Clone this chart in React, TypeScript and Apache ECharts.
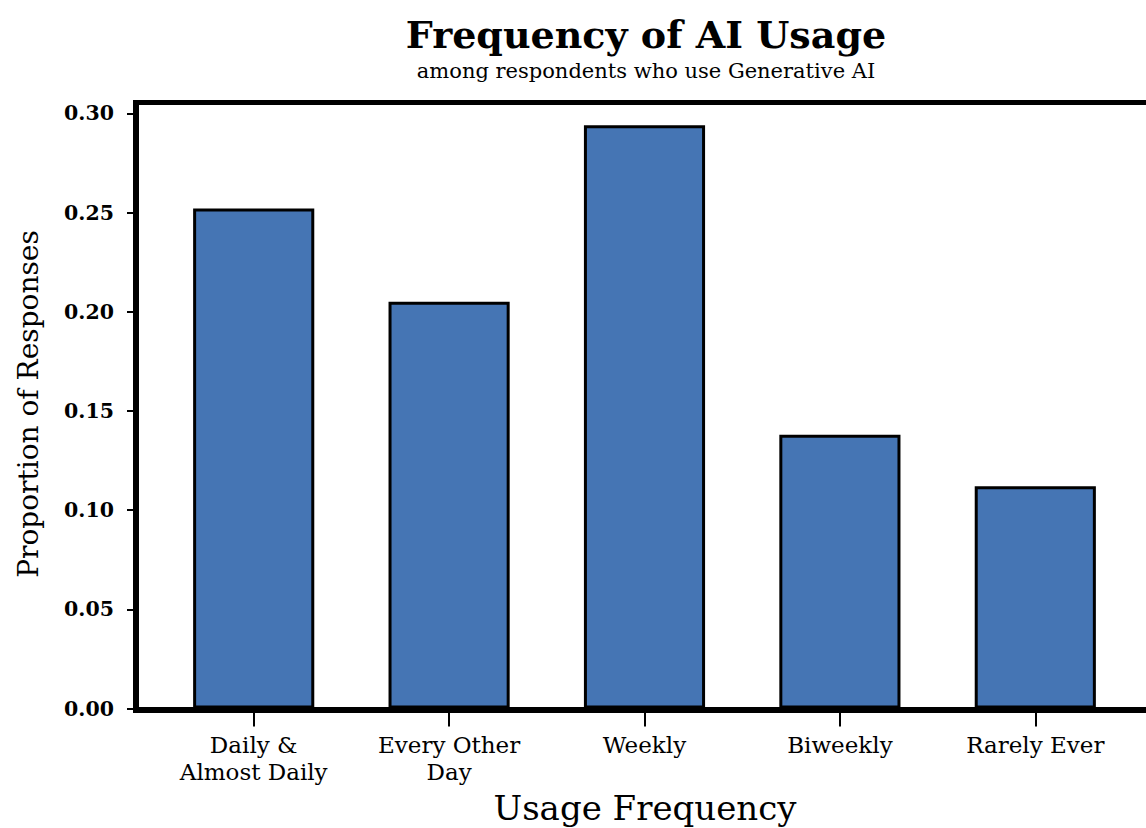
import React, { useEffect, useRef } from "react";
import * as echarts from "echarts";

const categories = ["Daily &\nAlmost Daily", "Every Other\nDay", "Weekly", "Biweekly", "Rarely Ever"];
const proportions = [0.252, 0.205, 0.294, 0.138, 0.112];
const yTicks = [0, 0.05, 0.1, 0.15, 0.2, 0.25, 0.3];
const titleText = "Frequency of AI Usage";
const subtitleText = "among respondents who use Generative AI";
const xName = "Usage Frequency";
const yName = "Proportion of Responses";

const FONT = "'DejaVu Serif', 'Liberation Serif', serif";
const W = 1146;
const H = 828;
const GRID_LEFT = 156;
const GRID_RIGHT = 13;
const GRID_TOP = 102.5;
const GRID_BOTTOM = 119.5;
const Y_MAX = 0.3055;
const FRAME_X = 133;
const AXIS_Y = 710;

export default function App() {
  const ref = useRef<HTMLDivElement>(null);
  useEffect(() => {
    if (!ref.current) return;
    const chart = echarts.init(ref.current, null, { renderer: "svg" });
    chart.setOption({
      animation: false,
      backgroundColor: "#ffffff",
      grid: { left: GRID_LEFT, right: GRID_RIGHT, top: GRID_TOP, bottom: GRID_BOTTOM, containLabel: false },
      xAxis: {
        type: "category",
        data: categories,
        axisLine: { show: false },
        axisTick: { show: true, alignWithLabel: true, length: 18, lineStyle: { color: "#000", width: 2 } },
        axisLabel: { color: "#000", fontFamily: FONT, fontSize: 23, lineHeight: 27, margin: 23 },
        splitLine: { show: false },
      },
      yAxis: {
        type: "value",
        min: 0,
        max: Y_MAX,
        interval: 0.05,
        offset: GRID_LEFT - 136,
        axisLine: { show: false },
        axisTick: { show: true, length: 9, lineStyle: { color: "#000", width: 2 }, customValues: yTicks },
        axisLabel: {
          color: "#000",
          fontFamily: FONT,
          fontSize: 20.5,
          fontWeight: "bold",
          margin: 22,
          customValues: yTicks,
          formatter: (v: number) => v.toFixed(2),
        },
        splitLine: { show: false },
      },
      series: [
        {
          type: "bar",
          data: proportions,
          barWidth: "62%",
          itemStyle: { color: "#4575b4", borderColor: "#000", borderWidth: 3 },
        },
      ],
      graphic: [
        { type: "rect", z: 100, shape: { x: FRAME_X, y: 100, width: W - FRAME_X, height: 5 }, style: { fill: "#000" } },
        { type: "rect", z: 100, shape: { x: FRAME_X, y: 100, width: 6, height: AXIS_Y + 3 - 100 }, style: { fill: "#000" } },
        { type: "rect", z: 100, shape: { x: FRAME_X, y: AXIS_Y - 3, width: W - FRAME_X, height: 6 }, style: { fill: "#000" } },
        {
          type: "text", z: 100, x: 646, y: 34,
          style: { text: titleText, font: `bold 38px ${FONT}`, fill: "#000", align: "center", verticalAlign: "middle", textAlign: "center", textVerticalAlign: "middle" },
        },
        {
          type: "text", z: 100, x: 646, y: 71,
          style: { text: subtitleText, font: `21px ${FONT}`, fill: "#000", align: "center", verticalAlign: "middle", textAlign: "center", textVerticalAlign: "middle" },
        },
        {
          type: "text", z: 100, x: 645, y: 808,
          style: { text: xName, font: `34px ${FONT}`, fill: "#000", align: "center", verticalAlign: "middle", textAlign: "center", textVerticalAlign: "middle" },
        },
        {
          type: "text", z: 100, x: 28, y: 404, rotation: Math.PI / 2,
          style: { text: yName, font: `28px ${FONT}`, fill: "#000", align: "center", verticalAlign: "middle", textAlign: "center", textVerticalAlign: "middle" },
        },
      ],
    });
    return () => chart.dispose();
  }, []);
  return <div ref={ref} style={{ position: "fixed", left: 0, top: 0, width: W, height: H }} />;
}
